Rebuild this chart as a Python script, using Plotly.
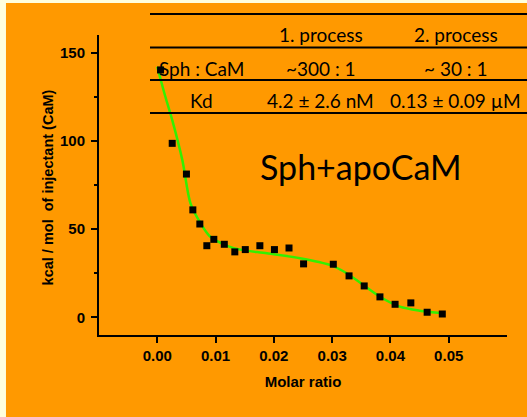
import plotly.graph_objects as go

# Data
ratio_pts = [0.00056, 0.00256, 0.0050, 0.0061, 0.0073, 0.0085, 0.0097, 0.0115, 0.0133,
             0.0151, 0.0176, 0.0201, 0.0226, 0.0251, 0.0302, 0.0329, 0.0355, 0.0382,
             0.0408, 0.0435, 0.0463, 0.0489]
heat_pts = [140.2, 98.6, 81.2, 60.9, 52.9, 40.6, 44.2, 41.4, 37.1,
            38.4, 40.6, 38.4, 39.3, 30.3, 30.1, 23.5, 17.8, 11.6,
            7.4, 8.2, 2.9, 1.9]

ratio_fit = [0.0, 0.0013, 0.00257, 0.0043, 0.0057, 0.0074, 0.0091, 0.0131, 0.0188,
             0.0245, 0.0296, 0.0325, 0.0353, 0.0382, 0.0416, 0.045, 0.049]
heat_fit = [142.0, 126.0, 111.8, 89.1, 64.6, 53.5, 45.7, 39.2, 36.3,
            33.5, 29.7, 25.0, 18.4, 11.7, 6.1, 3.8, 2.3]

x_ticks = [0.00, 0.01, 0.02, 0.03, 0.04, 0.05]
y_ticks = [0, 50, 100, 150]

table_header = ["", "1. process", "2. process"]
table_row1 = ["Sph : CaM", "~300 : 1", "~ 30 : 1"]
table_row2 = ["Kd", "4.2 ± 2.6 nM", "0.13 ± 0.09 µM"]

ORANGE = "#FF9900"
PALE = "#FFFFDD"

fig = go.Figure()
fig.add_trace(go.Scatter(x=ratio_fit, y=heat_fit, mode="lines",
                         line=dict(color="#33F000", width=2.5, shape="spline", smoothing=0.8),
                         hoverinfo="skip", showlegend=False))
fig.add_trace(go.Scatter(x=ratio_pts, y=heat_pts, mode="markers",
                         marker=dict(symbol="square", size=7, color="black"),
                         showlegend=False))

axis_font = dict(family="Liberation Sans", size=15, color="black")
title_font = dict(family="Liberation Sans", size=14.5, color="black")

fig.update_layout(
    width=527, height=417,
    margin=dict(l=99, r=20, t=35, b=82),
    paper_bgcolor=PALE, plot_bgcolor=ORANGE,
    xaxis=dict(range=[-0.01, 0.06], tickvals=x_ticks,
               ticktext=[f"<b>{v:.2f}</b>" for v in x_ticks],
               showgrid=False, zeroline=False, showline=True, linecolor="black", linewidth=2,
               ticks="outside", ticklen=6, tickwidth=1.5, tickcolor="black",
               tickfont=axis_font,
               title=dict(text="<b>Molar ratio</b>", font=axis_font, standoff=13)),
    yaxis=dict(range=[-10, 160], tickvals=y_ticks,
               ticktext=[f"<b>{v}</b>" for v in y_ticks],
               showgrid=False, zeroline=False, showline=True, linecolor="black", linewidth=2,
               ticks="outside", ticklen=6, tickwidth=1.5, tickcolor="black",
               tickfont=axis_font, ticklabelstandoff=3,
               minor=dict(tickvals=[25, 75, 125], ticks="outside", ticklen=3,
                          tickwidth=1.5, tickcolor="black")),
)

shapes = [dict(type="rect", xref="paper", yref="paper", x0=-0.228, x1=1.06, y0=-0.3, y1=1.107,
               fillcolor=ORANGE, line=dict(width=0), layer="below")]
for yl in [1.07, 0.958, 0.85, 0.74]:
    shapes.append(dict(type="line", xref="paper", yref="paper", x0=0.125, x1=1.06, y0=yl, y1=yl,
                       line=dict(color="black", width=2)))
fig.update_layout(shapes=shapes)

tfont = dict(family="Lato", size=19, color="black")
col_x = [0.252, 0.543, 0.874]
row_y = [1.003, 0.89, 0.78]
for row, yy in zip([table_header, table_row1, table_row2], row_y):
    for txt, xx in zip(row, col_x):
        if txt:
            fig.add_annotation(x=xx, y=yy, xref="paper", yref="paper", text=txt,
                               showarrow=False, font=tfont, xanchor="center", yanchor="middle")

fig.add_annotation(x=0.642, y=0.561, xref="paper", yref="paper", text="Sph+apoCaM",
                   showarrow=False, font=dict(family="Lato", size=34, color="black"),
                   xanchor="center", yanchor="middle")
fig.add_annotation(x=-0.125, y=0.492, xref="paper", yref="paper",
                   text="<b>kcal / mol  of injectant (CaM)</b>", textangle=-90,
                   showarrow=False, font=title_font, xanchor="center", yanchor="middle")

fig.write_html("out.html")
